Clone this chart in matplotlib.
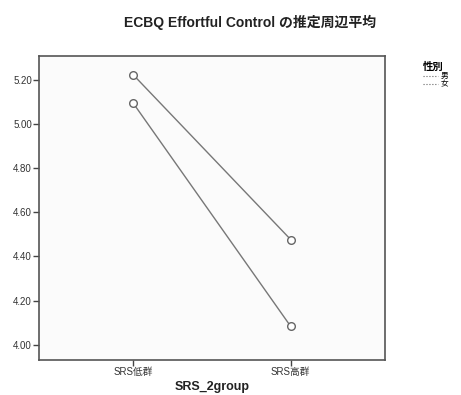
import matplotlib.pyplot as plt
from matplotlib.lines import Line2D

# データ
groups = ["SRS低群", "SRS高群"]
male = [5.224, 4.477]
female = [5.095, 4.083]
yticks = [4.00, 4.20, 4.40, 4.60, 4.80, 5.00, 5.20]

plt.rcParams['font.family'] = ['Liberation Sans', 'Noto Sans CJK JP', 'DejaVu Sans']

fig = plt.figure(figsize=(4.61, 3.95), dpi=100)
ax = fig.add_axes([39 / 461, 1 - 360 / 395, 346 / 461, 304 / 395])
ax.set_facecolor('#fbfbfb')

x = list(range(len(groups)))
for vals in (male, female):
    ax.plot(x, vals, color='#777777', lw=1.0, marker='o', ms=5.5,
            mfc='white', mec='#666666', mew=1.0)

ax.set_xlim(-0.6, 1.6)
ax.set_ylim(3.93, 5.31)
ax.set_xticks(x)
ax.set_xticklabels(groups, fontsize=7, color='#333333')
ax.set_yticks(yticks)
ax.set_yticklabels([f"{v:.2f}" for v in yticks], fontsize=7, color='#333333')
ax.tick_params(direction='out', length=4, width=1, color='#444444', pad=1)
for s in ax.spines.values():
    s.set_color('#555555')
    s.set_linewidth(1.2)

ax.set_xlabel("SRS_2group", fontsize=9, fontweight='bold', color='#222222', labelpad=3)
fig.text(250 / 461, 1 - 22 / 395, "ECBQ Effortful Control の推定周辺平均",
         ha='center', va='center', fontsize=10, fontweight='bold', color='#222222')

# 凡例
handles = [Line2D([], [], color='#666666', lw=0.8, ls=':'),
           Line2D([], [], color='#666666', lw=0.8, ls=':')]
leg = fig.legend(handles, ["男", "女"], title="性別", loc='upper left',
                 bbox_to_anchor=(419 / 461, 1 - 58 / 395), frameon=False,
                 prop={'family': ['Noto Sans CJK JP'], 'size': 5.5},
                 title_fontproperties={'family': ['Noto Sans CJK JP'], 'size': 7.5, 'weight': 'bold'},
                 handlelength=2.0, handletextpad=0.3, labelspacing=0.05, borderpad=0)
leg._legend_box.align = 'left'

fig.savefig("out.png", dpi=100)
